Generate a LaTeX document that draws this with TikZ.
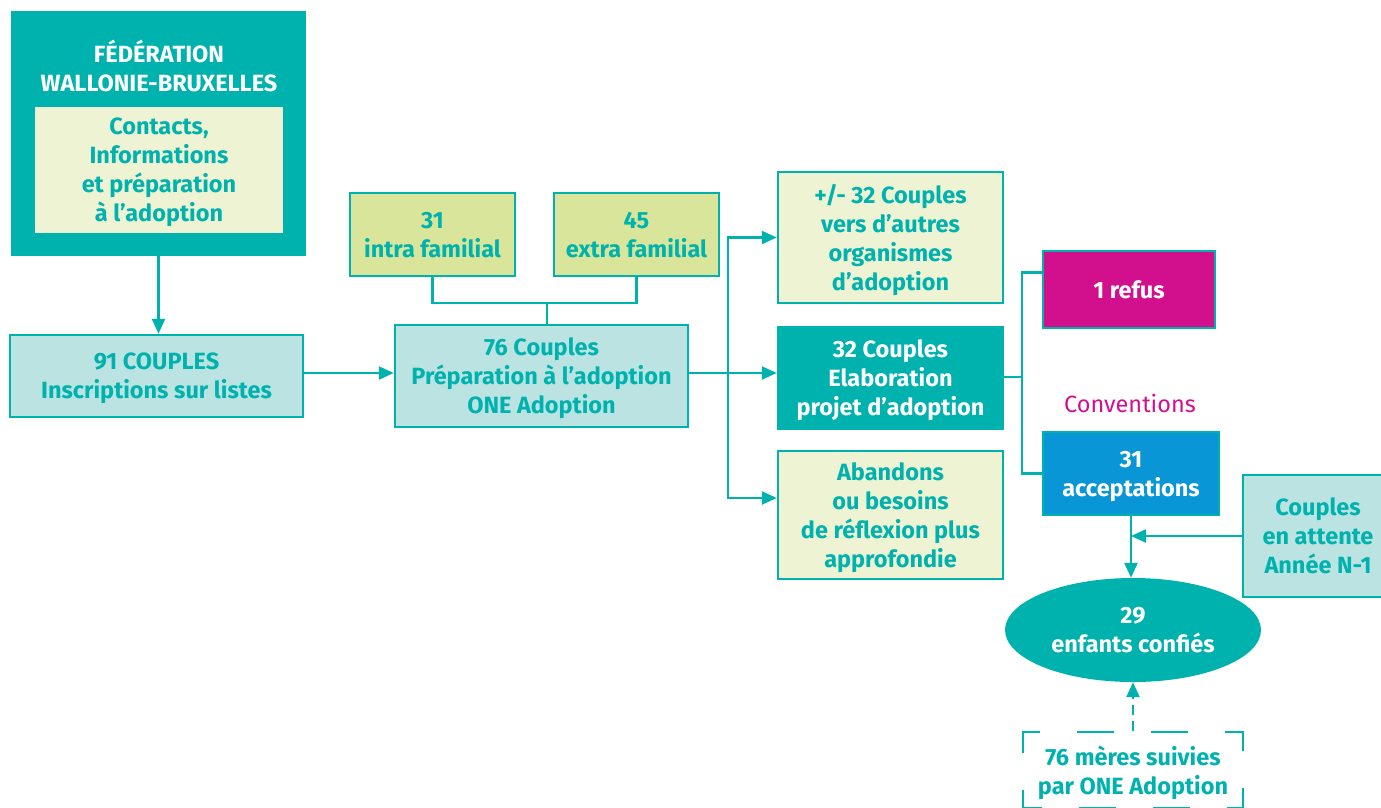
\documentclass[tikz,border=0pt]{standalone}
\usepackage{fontspec}
\setmainfont{Fira Sans}
\usetikzlibrary{arrows.meta,shapes.geometric}

\definecolor{oneteal}{HTML}{00B2AE}
\definecolor{onelight}{HTML}{BAE3E2}
\definecolor{onecream}{HTML}{EEF3D3}
\definecolor{oneolive}{HTML}{D9E59A}
\definecolor{onemagenta}{HTML}{D20F8C}
\definecolor{oneblue}{HTML}{0896D6}

\begin{document}
\begin{tikzpicture}[x=1pt,y=-1pt,>={Triangle[length=15pt,width=13pt]},
  txt/.style={font=\fontsize{23.5}{29}\selectfont\bfseries},
  cbox/.style={txt,draw=oneteal,line width=2.5pt,inner sep=0pt,align=center,text depth=-10pt},
  pale/.style={cbox,fill=onecream,text=oneteal},
  light/.style={cbox,fill=onelight,text=oneteal},
  olive/.style={cbox,fill=oneolive,text=oneteal},
  dark/.style={cbox,fill=oneteal,text=white},
  line/.style={draw=oneteal,line width=2.5pt}]

\useasboundingbox (0,0) rectangle (1381,807);
\clip (0,0) rectangle (1381,807);

% left column
\node (fwb) at (158.5,133.5) [dark,minimum width=293pt,minimum height=243pt] {};
\node (fwbtitle) at (159,66) [txt,text=white,align=center] {FÉDÉRATION\\WALLONIE-BRUXELLES};
\node (contacts) at (159,170) [pale,draw=none,minimum width=248pt,minimum height=126pt] {Contacts,\\Informations\\et préparation\\à l’adoption};
\node (inscr) at (156.5,376) [light,minimum width=293pt,minimum height=82pt] {91 COUPLES\\Inscriptions sur listes};

% preparation
\node (prep) at (541.5,376) [light,minimum width=293pt,minimum height=102pt] {76 Couples\\Préparation à l’adoption\\ONE Adoption};
\node (intra) at (432.5,234.5) [olive,minimum width=165pt,minimum height=83pt] {31\\intra familial};
\node (extra) at (636.5,234.5) [olive,minimum width=165pt,minimum height=83pt] {45\\extra familial};

% outcomes
\node (autres) at (890.5,237.5) [pale,minimum width=225pt,minimum height=131pt] {+/- 32 Couples\\vers d’autres\\organismes\\d’adoption};
\node (elab) at (890.5,378) [dark,minimum width=225pt,minimum height=102pt] {32 Couples\\Elaboration\\projet d’adoption};
\node (aband) at (890.5,515) [pale,minimum width=225pt,minimum height=128pt] {Abandons\\ou besoins\\de réflexion plus\\approfondie};

% conventions
\node (refus) at (1129,289.5) [cbox,fill=onemagenta,text=white,minimum width=172pt,minimum height=77pt] {1 refus};
\node (conv) at (1130,403) [font=\fontsize{23.5}{29}\selectfont,text=onemagenta] {Conventions};
\node (accept) at (1131,473.5) [cbox,fill=oneblue,text=white,minimum width=176pt,minimum height=83pt] {31\\acceptations};
\node (attente) at (1318,536) [light,minimum width=150pt,minimum height=122pt] {Couples\\en attente\\Année N-1};
\node (confies) at (1133,630) [txt,ellipse,fill=oneteal,text=white,align=center,text depth=-10pt,inner sep=0pt,minimum width=256pt,minimum height=104pt] {29\\enfants confiés};
\node (meres) at (1133,770) [cbox,fill=none,text=oneteal,dash pattern=on 37pt off 37pt,dash phase=18.5pt,minimum width=220pt,minimum height=76pt] {76 mères suivies\\par ONE Adoption};

\coordinate (bar) at (547,303);
\coordinate (fork) at (728,373);
\coordinate (fork2) at (1022,377);

\draw[line,->] (fwb.south) -- (fwb.south |- inscr.north);
\draw[line,->] (inscr.east |- fork) -- (prep.west |- fork);
\draw[line] (intra.south) |- (bar) -| (extra.south);
\draw[line] (bar) -- (bar |- prep.north);
\draw[line,->] (prep.east |- fork) -- (elab.west |- fork);
\draw[line,->] (fork) |- (autres.west);
\draw[line,->] (fork) |- ([yshift=17pt]aband.west);
\draw[line] (elab.east |- fork2) -- (fork2);
\draw[line] ([yshift=17pt]refus.west) -| (fork2);
\draw[line] (accept.west) -| (fork2);
\draw[line,->] (accept.south) -- (accept.south |- confies.north);
\draw[line,->] (attente.west) -- (attente.west -| accept.south);
\draw[line,->,dash pattern=on 10pt off 6pt] (meres.north) -- (confies.south);

\end{tikzpicture}
\end{document}
